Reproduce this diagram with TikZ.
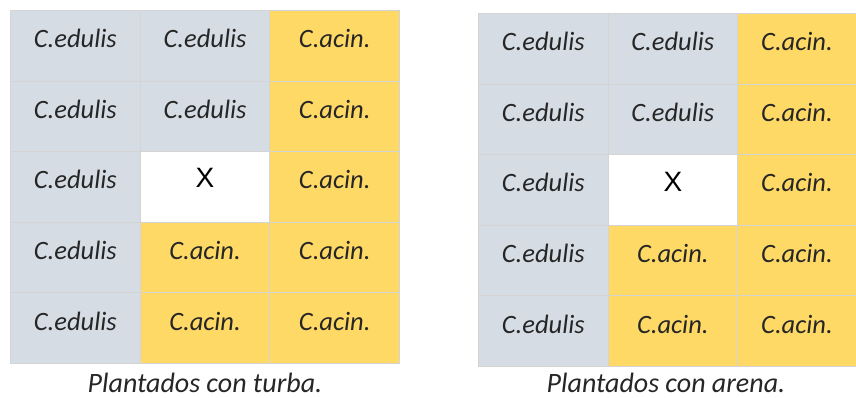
\documentclass[tikz,border=0pt]{standalone}
\usepackage{fontspec}
\setmainfont{Carlito}
\newfontfamily\xfont{Liberation Sans}
\definecolor{grayblue}{HTML}{D6DCE4}
\definecolor{gold}{HTML}{FFD966}
\definecolor{gridline}{HTML}{D4D4D4}
\definecolor{txt}{HTML}{262626}
\begin{document}
\begin{tikzpicture}[x=1pt,y=-1pt,
  cellbase/.style={draw=gridline, line width=1pt, inner sep=0pt, anchor=north west,
    minimum width=129.7pt, minimum height=70.6pt, text=txt,
    text height=12pt, text depth=8pt,
    font=\fontsize{26.5}{30}\selectfont\itshape},
  ed/.style={cellbase, fill=grayblue},
  ac/.style={cellbase, fill=gold},
  emptycell/.style={cellbase, fill=white, font=\fontsize{28}{32}\selectfont\xfont,
    text=black, text height=10pt, text depth=8pt},
  caption/.style={text=txt, font=\fontsize{28}{32}\selectfont\itshape, inner sep=0pt,
    anchor=base, text depth=0pt}]
\useasboundingbox (0,0) rectangle (856,398);
% left grid
\node[ed] (L11) at (10,10) {C.edulis};
\node[ed] (L12) at (139.7,10) {C.edulis};
\node[ac] (L13) at (269.4,10) {C.acin.};
\node[ed] (L21) at (10,80.6) {C.edulis};
\node[ed] (L22) at (139.7,80.6) {C.edulis};
\node[ac] (L23) at (269.4,80.6) {C.acin.};
\node[ed] (L31) at (10,151.2) {C.edulis};
\node[emptycell] (L32) at (139.7,151.2) {X};
\node[ac] (L33) at (269.4,151.2) {C.acin.};
\node[ed] (L41) at (10,221.8) {C.edulis};
\node[ac] (L42) at (139.7,221.8) {C.acin.};
\node[ac] (L43) at (269.4,221.8) {C.acin.};
\node[ed] (L51) at (10,292.4) {C.edulis};
\node[ac] (L52) at (139.7,292.4) {C.acin.};
\node[ac] (L53) at (269.4,292.4) {C.acin.};
\node[caption] (LC) at (205,392) {Plantados con turba.};
% right grid
\node[ed] (R11) at (478,13) {C.edulis};
\node[ed] (R12) at (607.5,13) {C.edulis};
\node[ac, minimum width=119pt] (R13) at (737,13) {C.acin.};
\node[ed] (R21) at (478,83.6) {C.edulis};
\node[ed] (R22) at (607.5,83.6) {C.edulis};
\node[ac, minimum width=119pt] (R23) at (737,83.6) {C.acin.};
\node[ed] (R31) at (478,154.2) {C.edulis};
\node[emptycell] (R32) at (607.5,154.2) {X};
\node[ac, minimum width=119pt] (R33) at (737,154.2) {C.acin.};
\node[ed] (R41) at (478,224.8) {C.edulis};
\node[ac] (R42) at (607.5,224.8) {C.acin.};
\node[ac, minimum width=119pt] (R43) at (737,224.8) {C.acin.};
\node[ed] (R51) at (478,295.4) {C.edulis};
\node[ac] (R52) at (607.5,295.4) {C.acin.};
\node[ac, minimum width=119pt] (R53) at (737,295.4) {C.acin.};
\node[caption] (RC) at (666,392) {Plantados con arena.};
\end{tikzpicture}
\end{document}
